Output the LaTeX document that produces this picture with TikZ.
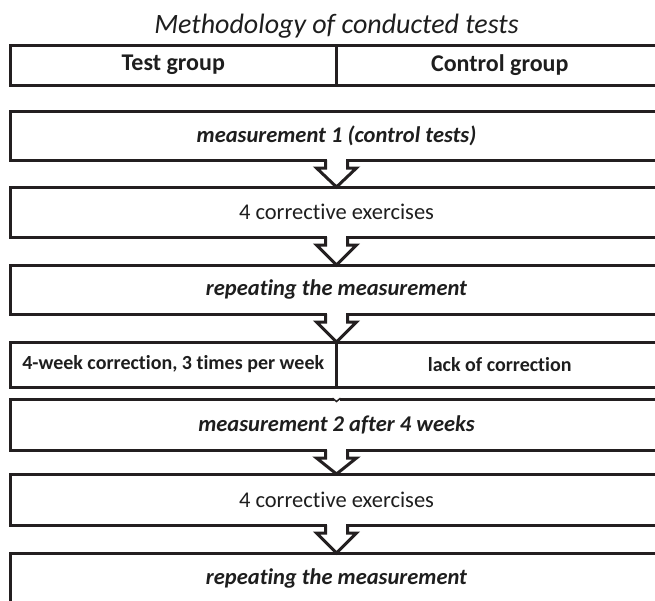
\documentclass[tikz,border=0pt]{standalone}
\usepackage{fontspec}
\setmainfont{Carlito}[Ligatures=NoCommon]
\usetikzlibrary{calc}
\definecolor{framegray}{RGB}{35, 31, 32}
\definecolor{inkgray}{RGB}{30, 30, 30}

\tikzset{
  stagebox/.style={draw=framegray, line width=3pt, line join=miter, outer sep=0pt,
    inner sep=0pt, minimum width=653pt, minimum height=#1, text=inkgray,
    font=\fontsize{22.5}{26}\selectfont},
  stagebox/.default=49pt,
  groupbox/.style={stagebox=#1, minimum width=326.5pt},
  groupbox/.default=40pt,
  arrowline/.style={draw=framegray, line width=3pt, line join=miter},
}

% hollow arrow that opens out of the bottom of box #1 and ends at point #2
\newcommand{\flowarrow}[2]{%
  \fill[white] ($(#1.south)+(-9.5,1.6)$) rectangle ($(#1.south)+(9.5,-1.6)$);
  \draw[arrowline] ($(#1.south)+(-11,0)$) -- ++(0,-8) -- ++(-9,0) -- (#2)
    -- ($(#1.south)+(20,-8)$) -- ++(-9,0) -- ++(0,8);
}

\begin{document}
\begin{tikzpicture}[x=1pt, y=1pt]
  \clip (0,0) rectangle (655,-600);

  % title
  \node[font=\fontsize{28}{32}\selectfont\itshape, text=inkgray] (title) at (336.5,-26) {Methodology of conducted tests};

  % groups
  \node[groupbox, font=\fontsize{24}{28}\selectfont\bfseries] (testgrp) at (173.25,-65) {Test group};
  \node[groupbox, font=\fontsize{24}{28}\selectfont\bfseries] (ctrlgrp) at (499.75,-65) {Control group};

  % stages
  \node[stagebox, font=\fontsize{22.5}{26}\selectfont\bfseries\itshape] (meas1) at (336.5,-135.5) {measurement 1 (control tests)};
  \node[stagebox=50pt] (exer1) at (336.5,-212) {4 corrective exercises};
  \node[stagebox, font=\fontsize{22.5}{26}\selectfont\bfseries\itshape] (rep1) at (336.5,-289.5) {repeating the measurement};
  \node[groupbox=45pt, font=\fontsize{20}{24}\selectfont\bfseries] (corr) at (173.25,-364.5) {4-week correction, 3 times per week};
  \node[groupbox=45pt, font=\fontsize{20}{24}\selectfont\bfseries] (nocorr) at (499.75,-364.5) {lack of correction};
  \node[stagebox=51pt, font=\fontsize{22.5}{26}\selectfont\bfseries\itshape] (meas2) at (336.5,-424.5) {measurement 2 after 4 weeks};
  \node[stagebox=51pt] (exer2) at (336.5,-499.5) {4 corrective exercises};
  \node[stagebox=50pt, font=\fontsize{22.5}{26}\selectfont\bfseries\itshape] (rep2) at (336.5,-578) {repeating the measurement};

  % arrows
  \flowarrow{meas1}{exer1.north}
  \flowarrow{exer1}{rep1.north}
  \flowarrow{rep1}{corr.north east}
  \flowarrow{meas2}{exer2.north}
  \flowarrow{exer2}{rep2.north}

  % small notch where the groups join again
  \fill[white] ($(meas2.north)+(-3,1.6)$) rectangle ($(meas2.north)+(3,-1.6)$);
  \draw[arrowline, line width=1.5pt] ($(meas2.north)+(-4,0.8)$) -- ($(meas2.north)+(0,-2.5)$) -- ($(meas2.north)+(4,0.8)$);
\end{tikzpicture}
\end{document}
